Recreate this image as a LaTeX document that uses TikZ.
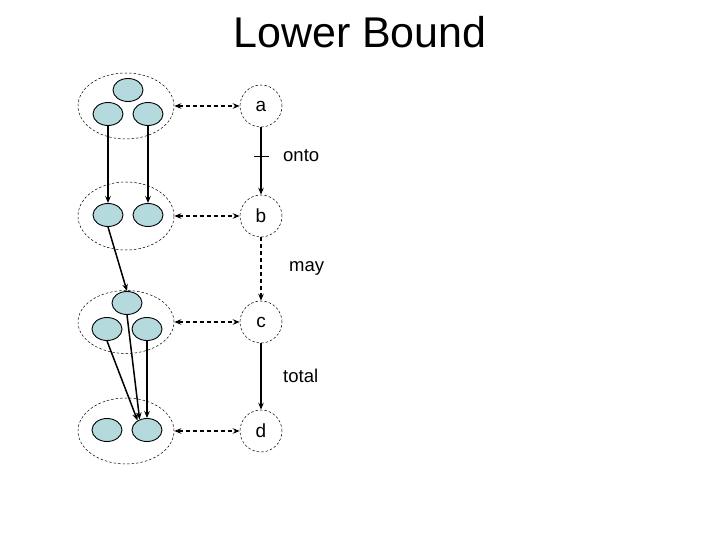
\documentclass[tikz,border=0pt]{standalone}
\usepackage{fontspec}
\setmainfont{Liberation Sans}
\usetikzlibrary{shapes.geometric,arrows.meta,calc}
\definecolor{blobfill}{RGB}{180,218,222}
\begin{document}
\begin{tikzpicture}[x=1pt,y=-1pt,
  blob/.style={ellipse,draw=black,line width=0.9pt,fill=blobfill,minimum width=30pt,minimum height=23pt,inner sep=0pt},
  grp/.style={ellipse,draw=black,line width=0.5pt,dash pattern=on 2.5pt off 2pt,minimum width=96pt,minimum height=66pt,inner sep=0pt},
  obj/.style={circle,draw=black,line width=0.5pt,dash pattern=on 2.5pt off 2pt,minimum size=42pt,inner sep=0pt,font=\fontsize{19}{21}\selectfont},
  conn/.style={line width=1.5pt,-{Stealth[length=7pt,width=5.5pt]}},
  dconn/.style={line width=1.5pt,dash pattern=on 4pt off 3pt,{Stealth[length=7pt,width=5.5pt]}-{Stealth[length=7pt,width=5.5pt]}},
  lbl/.style={anchor=west,font=\fontsize{18.5}{21}\selectfont,inner sep=0pt}
]
\useasboundingbox (0,0) rectangle (720,540);
\node[anchor=base,font=\fontsize{43}{47}\selectfont,inner sep=0pt] (title) at (360,48) {Lower Bound};
% groups
\node[grp] (g1) at (126,106) {};
\node[grp,minimum height=68pt] (g2) at (126,216) {};
\node[grp,minimum height=63pt] (g3) at (126,322) {};
\node[grp] (g4) at (126,431) {};
% blobs
\node[blob] (e1t) at (128,90) {};
\node[blob] (e1l) at (108,114) {};
\node[blob] (e1r) at (148,114) {};
\node[blob] (e2l) at (108,215) {};
\node[blob] (e2r) at (148,215) {};
\node[blob] (e3t) at (127,303) {};
\node[blob] (e3l) at (107,329) {};
\node[blob] (e3r) at (147,329) {};
\node[blob] (e4l) at (107,430) {};
\node[blob] (e4r) at (147,430) {};
% abstract objects
\node[obj] (a) at (261,106) {a};
\node[obj] (b) at (261,216) {b};
\node[obj] (c) at (261,322) {c};
\node[obj] (d) at (261,431) {d};
% concrete arrows
\draw[conn] (e1l.south) -- (e2l.north);
\draw[conn] (e1r.south) -- (e2r.north);
\draw[conn] (e2l.south) -- (e3t.north);
\draw[conn] (e3t.south) -- (e4r.125);
\draw[conn] (e3l.south) -- (e4r.135);
\draw[conn] (e3r.south) -- (e4r.north);
% abstraction links
\draw[dconn] (g1.east) -- (a.west);
\draw[dconn] (g2.east) -- (b.west);
\draw[dconn] (g3.east) -- (c.west);
\draw[dconn] (g4.east) -- (d.west);
% abstract arrows
\draw[conn] (a.south) -- (b.north);
\coordinate (tick) at ($(a.south)!0.43!(b.north)$);
\draw[line width=0.6pt] ($(tick)+(-7,0)$) -- ($(tick)+(8,0)$);
\node[lbl] (onto) at (283,156) {onto};
\draw[conn,dash pattern=on 4pt off 3pt] (b.south) -- (c.north);
\node[lbl] (may) at (289,268) {may};
\draw[conn] (c.south) -- (d.north);
\node[lbl] (total) at (283,376) {total};
\end{tikzpicture}
\end{document}
